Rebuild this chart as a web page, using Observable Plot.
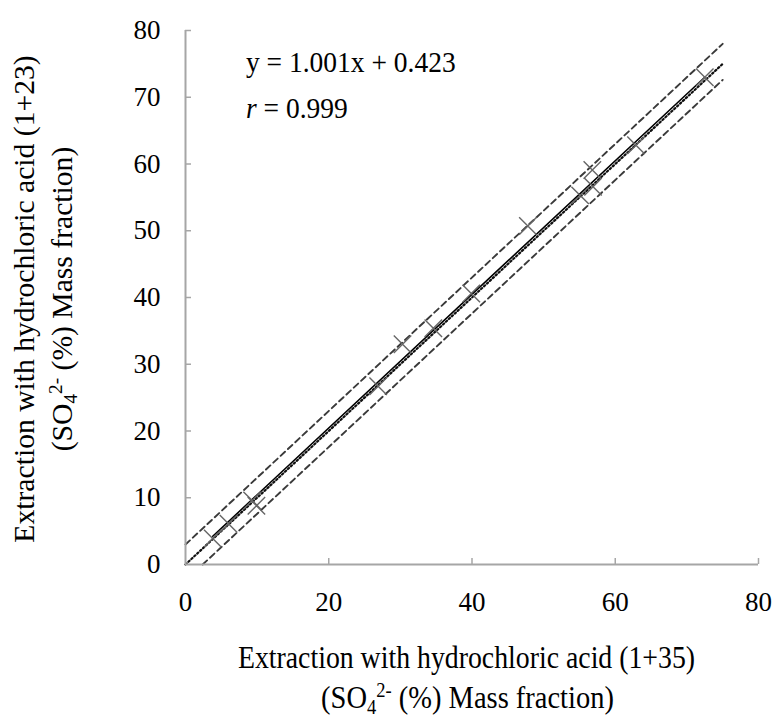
<!DOCTYPE html>
<html><head><meta charset="utf-8">
<script src="https://cdn.jsdelivr.net/npm/d3@7"></script>
<script src="https://cdn.jsdelivr.net/npm/@observablehq/plot@0.6"></script>
<style>
body{margin:0;background:#fff}
#chart{width:774px;height:720px}
#chart svg, #chart svg text, #chart svg tspan { font-family: "Liberation Serif", "Times New Roman", serif !important; }
</style>
</head><body><div id="chart"></div>
<script>
const xTicks = [0, 20, 40, 60, 80];
const yTicks = [0, 10, 20, 30, 40, 50, 60, 70, 80];
const sampleX = [3.8, 6.0, 9.3, 9.9, 26.9, 30.3, 34.6, 39.9, 47.8, 55.1, 56.8, 56.9, 62.9, 72.5];
const sampleY = [3.9, 6.1, 9.6, 8.8, 26.7, 33.0, 35.4, 40.6, 50.7, 55.3, 59.1, 56.6, 62.8, 73.0];
const fitX = [3.8, 72.5];
const fitY = [4.23, 73.0];
const dotX = [0, 75];
const dotY = [0, 75];
const upperX = [0, 75];
const upperY = [3, 78];
const lowerX = [2.4, 75];
const lowerY = [0, 72.6];
const equation = "y = 1.001x + 0.423";
const rValue = " = 0.999";
const xTitle = "Extraction with hydrochloric acid (1+35)";
const yTitle = "Extraction with hydrochloric acid (1+23)";

const pts = sampleX.map((x, i) => ({x, y: sampleY[i]}));
const line = (xs, ys) => xs.map((x, i) => ({x, y: ys[i]}));

const W = 774, H = 720, ML = 185, MR = 16, MT = 30, MB = 156;
const FONT = "Liberation Serif, Times New Roman, serif";

const plot = Plot.plot({
  width: W, height: H,
  marginLeft: ML, marginRight: MR, marginTop: MT, marginBottom: MB,
  style: {fontFamily: FONT, fontSize: "27px", color: "#000", background: "#fff", overflow: "visible"},
  x: {domain: [0, 80], label: null},
  y: {domain: [0, 80], label: null},
  marks: [
    Plot.line(line(upperX, upperY), {x: "x", y: "y", stroke: "#3a3a3a", strokeWidth: 1.9, strokeDasharray: "6,4"}),
    Plot.line(line(lowerX, lowerY), {x: "x", y: "y", stroke: "#3a3a3a", strokeWidth: 1.9, strokeDasharray: "6,4"}),
    Plot.line(line(dotX, dotY), {x: "x", y: "y", stroke: "#111", strokeWidth: 2.2, strokeDasharray: "1.5,2.5"}),
    Plot.line(line(fitX, fitY), {x: "x", y: "y", stroke: "#000", strokeWidth: 1.6}),
    Plot.dot(pts, {x: "x", y: "y", symbol: "times", r: 8, stroke: "#666", strokeWidth: 1.4}),
    Plot.ruleY([0], {stroke: "#a6a6a6", strokeWidth: 2}),
    Plot.ruleX([0], {stroke: "#a6a6a6", strokeWidth: 2}),
    Plot.tickX(xTicks.slice(1), {x: d => d, stroke: "#a6a6a6", strokeWidth: 1.5, insetTop: H - MT - MB - 6}),
    Plot.tickY(yTicks.slice(1), {y: d => d, stroke: "#a6a6a6", strokeWidth: 1.5, insetRight: W - ML - MR - 6}),
    Plot.axisX(xTicks, {tickSize: 0, tickPadding: 27, fontSize: 27}),
    Plot.axisY(yTicks, {tickSize: 0, tickPadding: 25, fontSize: 27})
  ]
});

document.getElementById("chart").appendChild(plot);

const svg = d3.select(plot);
const g = svg.append("g").attr("font-family", FONT).attr("fill", "#000");

// equation annotation
g.append("text").attr("transform", "translate(246,72) scale(1,1.1)")
  .attr("text-anchor", "start").attr("font-size", 27.5).text(equation);
const rt = g.append("text").attr("transform", "translate(246,118) scale(1,1.1)")
  .attr("text-anchor", "start").attr("font-size", 27.5);
rt.append("tspan").attr("font-style", "italic").text("r");
rt.append("tspan").text(rValue);

// x title
const cx = (ML + (W - MR)) / 2;
g.append("text").attr("transform", `translate(${cx - 5},668) scale(1,1.1)`)
  .attr("text-anchor", "middle").attr("font-size", 27.8).text(xTitle);
function chem(sel, fs) {
  sel.append("tspan").text("(SO");
  sel.append("tspan").attr("font-size", fs * 0.65).attr("dy", 5).text("4");
  sel.append("tspan").attr("font-size", fs * 0.65).attr("dy", -15).text("2-");
  sel.append("tspan").attr("dy", 10).text(" (%) Mass fraction)");
}
chem(g.append("text").attr("transform", `translate(${cx - 4},708) scale(1,1.1)`)
  .attr("text-anchor", "middle").attr("font-size", 28.5), 28.5);

// y title
const cy = (MT + (H - MB)) / 2 + 2;
g.append("text").attr("transform", `translate(34,${cy}) rotate(-90) scale(1.04,1)`)
  .attr("text-anchor", "middle").attr("font-size", 28.5).text(yTitle);
chem(g.append("text").attr("transform", `translate(72,${cy}) rotate(-90) scale(1.04,1)`)
  .attr("text-anchor", "middle").attr("font-size", 28.5), 28.5);
</script>
</body></html>
